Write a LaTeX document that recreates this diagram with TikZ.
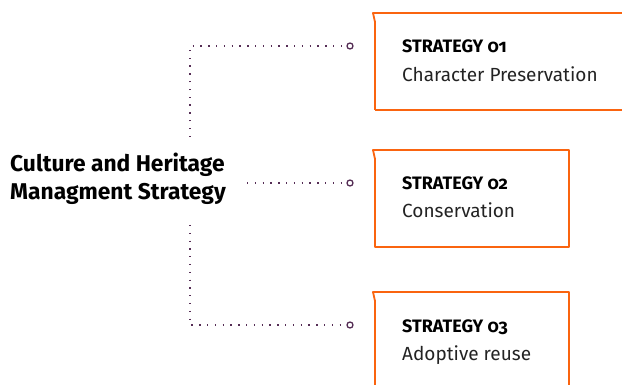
\documentclass[tikz,border=0pt]{standalone}
\usepackage{fontspec}
\setmainfont{Fira Sans}[Numbers=OldStyle]
\usepackage{xcolor}
\definecolor{stratOrange}{RGB}{250,100,15}
\definecolor{linkPurple}{RGB}{85,45,85}
\definecolor{bodyText}{RGB}{35,35,35}
\tikzset{
    maintext/.style={
        align=left,
        anchor=base west,
        inner sep=0pt,
        text=black,
        font=\fontsize{22.8}{28}\selectfont\bfseries
    },
    strattitle/.style={
        anchor=base west,
        inner sep=0pt,
        text=black,
        font=\fontsize{18}{22}\selectfont\bfseries
    },
    stratdesc/.style={
        anchor=base west,
        inner sep=0pt,
        text=bodyText,
        font=\fontsize{19}{22}\selectfont
    },
    stratbox/.style={draw=stratOrange, line width=1.8pt, line join=round},
    dotlink/.style={draw=linkPurple, line width=1.4pt, dash pattern=on 1.3pt off 6.5pt},
    endring/.style={circle, draw=linkPurple, line width=1.3pt, fill=white,
        inner sep=0pt, minimum size=6pt}
}

\begin{document}
\begin{tikzpicture}[x=1pt, y=-1pt]
    \useasboundingbox (0,0) rectangle (622,385);

    % main heading (base anchor sits on the last line)
    \node[maintext] (main) at (10,200) {Culture and Heritage\\Managment Strategy};

    % end rings
    \node[endring] (ring1) at (350,46) {};
    \node[endring] (ring2) at (350,183) {};
    \node[endring] (ring3) at (350,325) {};

    \coordinate (top) at (190,137);
    \coordinate (corner1) at (190,46);
    \coordinate (mid) at (247,183);
    \coordinate (bot) at (190,225);
    \coordinate (corner3) at (190,325);

    \draw[dotlink] (top) -- (corner1) -- (ring1);
    \draw[dotlink] (mid) -- (ring2);
    \draw[dotlink] (bot) -- (corner3) -- (ring3);

    % strategy boxes
    \draw[stratbox] (375,110) -- (375,22) -- (373,13) -- (630,13);
    \draw[stratbox] (630,110) -- (375,110);
    \draw[stratbox] (375,247) -- (375,159) -- (373,150) -- (569,150) -- (569,247) -- cycle;
    \draw[stratbox] (375,395) -- (375,301) -- (373,292) -- (569,292) -- (569,395);

    \node[strattitle] (s1) at (402,53) {STRATEGY 01};
    \node[stratdesc] (d1) at (402,82) {Character Preservation};
    \node[strattitle] (s2) at (402,190) {STRATEGY 02};
    \node[stratdesc] (d2) at (402,218) {Conservation};
    \node[strattitle] (s3) at (402,332) {STRATEGY 03};
    \node[stratdesc] (d3) at (402,360) {Adoptive reuse};
\end{tikzpicture}
\end{document}
